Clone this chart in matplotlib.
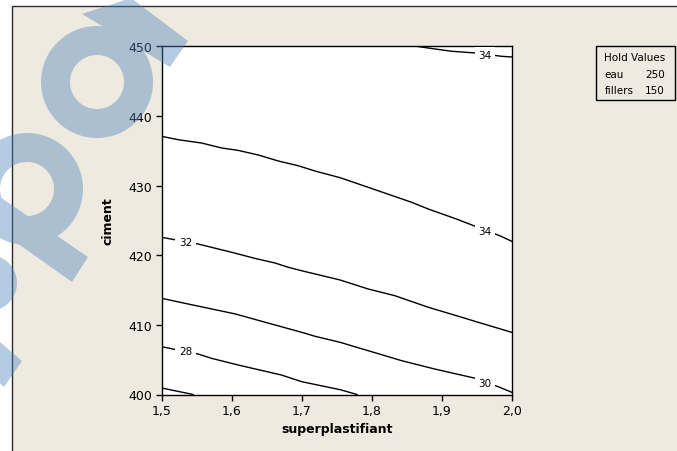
import numpy as np
import matplotlib
matplotlib.use("Agg")
import matplotlib.pyplot as plt
from matplotlib.path import Path
from matplotlib.patches import PathPatch, Rectangle
from matplotlib.transforms import Affine2D

# lignes de contour (superplastifiant, ciment)
sp_34a = [1.864, 1.890, 1.914, 1.948, 1.986, 2.000]
ci_34a = [450.0, 449.62, 449.29, 449.04, 448.56, 448.47]

sp_34b = [1.500, 1.524, 1.557, 1.586, 1.609, 1.638, 1.667, 1.695, 1.719,
          1.755, 1.795, 1.857, 1.881, 1.921, 1.948, 1.983, 2.000]
ci_34b = [437.07, 436.58, 436.11, 435.39, 435.06, 434.39, 433.52, 432.85, 432.09,
          431.13, 429.75, 427.60, 426.63, 425.20, 424.15, 422.80, 422.00]

sp_32 = [1.500, 1.552, 1.600, 1.633, 1.662, 1.681, 1.700, 1.755, 1.795,
         1.833, 1.881, 1.929, 1.952, 2.000]
ci_32 = [422.57, 421.61, 420.42, 419.55, 418.88, 418.26, 417.77, 416.44, 415.15,
         414.19, 412.52, 411.08, 410.37, 408.93]

sp_30 = [1.500, 1.538, 1.605, 1.648, 1.700, 1.719, 1.755, 1.795, 1.843,
         1.890, 1.948, 1.983, 2.000]
ci_30 = [413.81, 412.99, 411.57, 410.37, 408.93, 408.36, 407.49, 406.29, 404.85,
         403.66, 402.33, 401.03, 400.32]

sp_28 = [1.500, 1.552, 1.571, 1.609, 1.671, 1.700, 1.755, 1.779]
ci_28 = [406.86, 405.81, 405.20, 404.24, 402.80, 401.84, 400.69, 400.0]

sp_26 = [1.500, 1.545]
ci_26 = [400.93, 400.0]

# étiquettes des contours
lab_txt = ["34", "34", "32", "30", "28"]
lab_sp = [1.962, 1.962, 1.534, 1.962, 1.534]
lab_ci = [448.7, 423.5, 421.9, 401.6, 406.25]

xticks = [1.5, 1.6, 1.7, 1.8, 1.9, 2.0]
xtick_labels = ["1,5", "1,6", "1,7", "1,8", "1,9", "2,0"]
yticks = [400, 410, 420, 430, 440, 450]

hold_names = ["eau", "fillers"]
hold_vals = ["250", "150"]

W, H = 677, 452
beige = "#EEEAE0"

fig = plt.figure(figsize=(W / 100, H / 100), dpi=100)
fig.patch.set_facecolor("white")

# pixels (origine en haut à gauche) -> figure
px = Affine2D().scale(1 / W, -1 / H).translate(0, 1) + fig.transFigure

# fond beige avec cadre
fond = Rectangle((11.7, 7.3), 700, 480, transform=px, facecolor=beige,
                 edgecolor="#2b2b2b", lw=1.0, zorder=-5)
fig.add_artist(fond)

ax = fig.add_axes([161.7 / W, 1 - 395.5 / H, 350 / W, 348.2 / H])
ax.set_facecolor("white")

lignes = [(sp_34a, ci_34a), (sp_34b, ci_34b), (sp_32, ci_32),
          (sp_30, ci_30), (sp_28, ci_28), (sp_26, ci_26)]
for xs, ys in lignes:
    ax.plot(xs, ys, color="black", lw=1.0, solid_joinstyle="round")

for t, x, y in zip(lab_txt, lab_sp, lab_ci):
    ax.text(x, y, t, fontsize=7.5, ha="center", va="center", zorder=5,
            bbox=dict(facecolor="white", edgecolor="none", pad=2.5))

ax.set_xlim(1.5, 2.0)
ax.set_ylim(400, 450)
ax.set_xticks(xticks)
ax.set_xticklabels(xtick_labels)
ax.set_yticks(yticks)
ax.tick_params(direction="out", length=4, width=1, labelsize=9, pad=3)
for s in ax.spines.values():
    s.set_linewidth(1.0)
    s.set_color("black")

ax.set_xlabel("superplastifiant", fontsize=9, fontweight="bold")
ax.set_ylabel("ciment", fontsize=9, fontweight="bold")
ax.xaxis.set_label_coords(0.5, -0.080)
ax.yaxis.set_label_coords(-0.135, 0.5)

# encadré Hold Values
boite = Rectangle((596.3, 47.3), 79, 53.4, transform=px, facecolor=beige,
                  edgecolor="black", lw=1.0)
fig.add_artist(boite)
fig.text(604.5, 58, "Hold Values", transform=px, fontsize=7.5, va="center")
for i in range(len(hold_names)):
    yy = 75 + i * 16
    fig.text(604.5, yy, hold_names[i], transform=px, fontsize=7.5, va="center")
    fig.text(665, yy, hold_vals[i], transform=px, fontsize=7.5, va="center", ha="right")


# filigrane bleu (forme unique pour ne pas doubler la transparence)
def aire(p):
    p = np.asarray(p, dtype=float)
    return 0.5 * np.sum(p[:, 0] * np.roll(p[:, 1], -1) - np.roll(p[:, 0], -1) * p[:, 1])


def oriente(p, signe):
    p = np.asarray(p, dtype=float)
    if np.sign(aire(p)) != signe:
        p = p[::-1]
    return p


ang = np.linspace(0, 2 * np.pi, 120, endpoint=False)


def cercle(cx, cy, r):
    return np.column_stack([cx + r * np.cos(ang), cy + r * np.sin(ang)])


morceaux = []
for cx, cy, ro, ri in [(97, 83, 56, 27), (27, 190, 56, 27)]:
    morceaux.append(oriente(cercle(cx, cy, ro), 1))
    morceaux.append(oriente(cercle(cx, cy, ri), -1))
morceaux.append(oriente(cercle(-11, 284, 28), 1))
morceaux.append(oriente([(82, 15), (131, -1), (188, 42), (170, 68)], 1))
morceaux.append(oriente([(0, 198), (88, 258), (72, 283), (0, 232)], 1))
morceaux.append(oriente([(-30, 317), (22, 362), (4, 388), (-30, 359)], 1))

chemins = [Path(np.vstack([m, m[:1]]), closed=True) for m in morceaux]
filigrane = PathPatch(Path.make_compound_path(*chemins), transform=px,
                      facecolor="#4F84BD", edgecolor="none", alpha=0.42, zorder=10)
fig.add_artist(filigrane)

fig.savefig("out.png", dpi=100)
